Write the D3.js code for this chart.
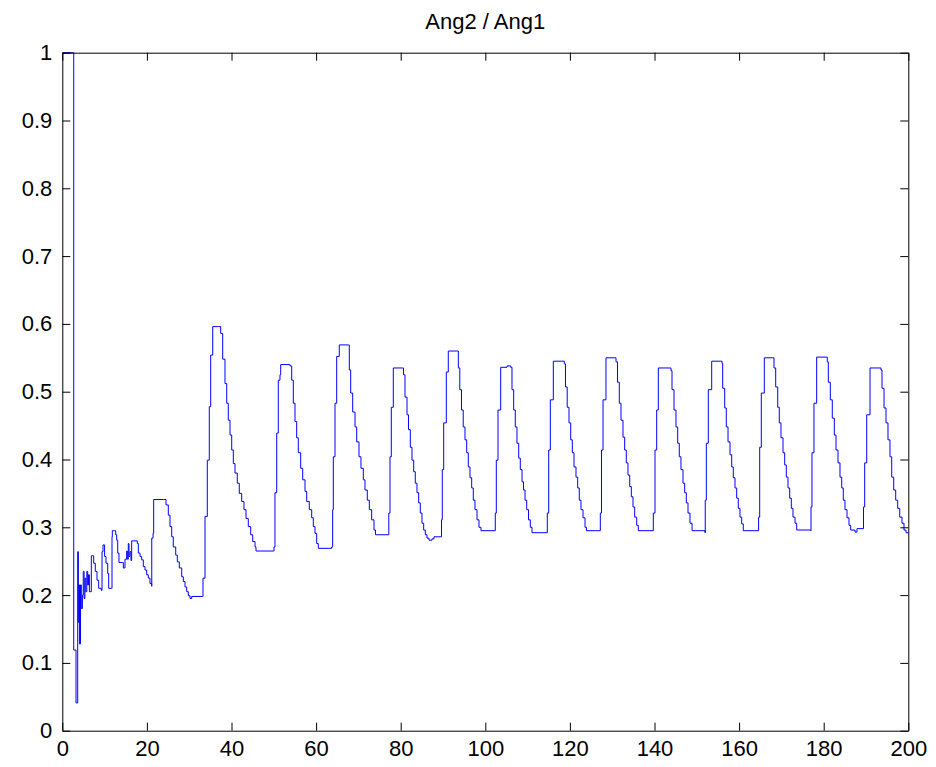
<!DOCTYPE html>
<html>
<head>
<meta charset="utf-8">
<script src="https://cdn.jsdelivr.net/npm/d3@7"></script>
<style>
  html, body { margin: 0; padding: 0; background: #fff; }
  svg { display: block; }
  text { font-family: "Liberation Sans", Arial, sans-serif; }
</style>
</head>
<body>
<svg id="chart" width="936" height="767"></svg>
<script>
const chartTitle = "Ang2 / Ang1";
const xTicks = [0, 20, 40, 60, 80, 100, 120, 140, 160, 180, 200];
const yTicks = [0, 0.1, 0.2, 0.3, 0.4, 0.5, 0.6, 0.7, 0.8, 0.9, 1];
const yTickLabels = ["0", "0.1", "0.2", "0.3", "0.4", "0.5", "0.6", "0.7", "0.8", "0.9", "1"];

// time axis values (x) and ratio values (y)
const timeValues = [
  0, 2.6, 2.7, 3.24, 3.64, 3.8, 3.95, 4.05, 4.3, 4.5, 4.75, 4.95, 5.15, 5.35, 5.55, 5.8, 6.0, 6.2, 6.4,
  6.86, 7.2, 7.42, 7.8, 8.2, 8.6, 9.2, 9.39, 9.62, 10.0, 10.33, 10.73, 10.97, 11.6, 11.75, 11.82, 12.29,
  12.62, 12.86, 13.1, 13.4, 14.18, 14.42, 14.82, 15.22, 15.37, 15.6, 15.77, 16.0, 16.24, 16.4, 17.42,
  17.73, 17.97, 18.37, 18.77, 19.15, 19.55, 19.95, 20.33, 20.73, 21.13, 21.15, 21.45, 21.6, 23.88,
  24.52, 25.06, 25.46, 25.86, 26.24, 26.81, 27.19, 27.66, 28.23, 28.61, 29.01, 29.41, 29.79, 30.19, 30.59, 33.19,
  33.26, 33.74, 34.28, 34.75, 35.08, 35.56, 36.88,
  37.45, 37.92, 38.46, 38.87, 39.24, 39.65, 40.05, 40.43, 40.83, 41.37, 41.84, 42.41, 42.95, 43.43, 43.97, 44.54, 45.01, 45.56, 45.79, 49.88,
  50.05, 50.28, 50.69, 51.06, 51.46, 51.63, 53.66,
  53.83, 54.23, 54.61, 55.01, 55.41, 55.79, 56.36, 56.83, 57.38, 57.78, 58.39, 58.96, 59.34, 59.74, 60.14, 60.52, 63.69,
  63.92, 64.07, 64.47, 64.87, 65.48, 67.61,
  67.85, 68.18, 68.65, 69.2, 69.6, 70.14, 70.61, 71.16, 71.56, 72.1, 72.58, 73.14, 73.69, 74.04, 77.07,
  77.19, 77.47, 77.78, 78.25, 80.47,
  80.66, 81.02, 81.49, 81.84, 82.27, 82.67, 83.07, 83.45, 83.85, 84.25, 84.63, 85.03, 85.43, 85.82, 86.22, 86.69, 87.4, 87.87, 89.53,
  89.65, 89.83, 90.16, 90.78, 91.25, 93.24,
  93.62, 93.97, 94.37, 94.78, 95.2, 95.6, 95.98, 96.38, 96.78, 97.16, 97.56, 98.04, 98.51, 98.98, 102.29,
  102.36, 102.6, 103.0, 103.64, 104.89, 105.13, 106.0,
  106.31, 106.71, 107.09, 107.49, 107.9, 108.27, 108.68, 109.03, 109.39, 109.79, 110.21, 110.64, 111.04, 114.59,
  114.66, 114.99, 115.37, 116.08, 118.06, 118.68,
  118.96, 119.36, 119.79, 120.19, 120.57, 120.97, 121.44, 121.84, 122.22, 122.62, 123.1, 123.57, 123.92, 127.12,
  127.19, 127.47, 127.83, 128.53, 130.5, 130.9,
  131.25, 131.68, 132.08, 132.55, 132.95, 133.33, 133.73, 134.14, 134.52, 134.92, 135.32, 135.79, 136.17, 139.65,
  139.72, 140.12, 140.52, 140.9, 143.5, 143.9,
  144.14, 144.61, 145.08, 145.48, 145.86, 146.26, 146.74, 147.14, 147.52, 147.92, 148.39, 148.87, 151.94,
  152.0, 152.25, 152.72, 153.52, 155.65, 155.96,
  156.12, 156.6, 156.97, 157.38, 157.85, 158.25, 158.63, 159.03, 159.43, 159.81, 160.21, 160.61, 160.99, 164.54,
  164.61, 164.87, 165.25, 165.96, 167.94, 168.25,
  168.65, 169.13, 169.5, 169.9, 170.38, 170.78, 171.16, 171.56, 171.96, 172.34, 172.74, 173.22, 173.62, 176.93,
  177.0, 177.23, 177.7, 178.34, 180.54, 180.85,
  181.09, 181.56, 182.03, 182.51, 182.91, 183.38, 183.85, 184.26, 184.63, 185.03, 185.51, 185.98, 186.38, 187.4, 187.87, 189.36,
  189.41, 189.69, 190.17, 190.95, 193.32, 193.55,
  193.78, 194.26, 194.73, 195.2, 195.67, 196.08, 196.55, 197.02, 197.49, 197.97, 198.51, 198.98, 199.46, 200
];
const ratioValues = [
  1, 1, 0.119, 0.041, 0.264, 0.16, 0.215, 0.128, 0.215, 0.18, 0.2, 0.235, 0.195, 0.225, 0.205, 0.235, 0.215, 0.23, 0.205,
  0.258, 0.258, 0.247, 0.235, 0.222, 0.21, 0.207, 0.264, 0.274, 0.257, 0.247, 0.232, 0.21, 0.21, 0.286, 0.295, 0.295,
  0.289, 0.281, 0.262, 0.248, 0.248, 0.24, 0.253, 0.265, 0.253, 0.276, 0.257, 0.264, 0.251, 0.28, 0.28,
  0.276, 0.262, 0.257, 0.252, 0.242, 0.237, 0.23, 0.225, 0.217, 0.213, 0.284, 0.291, 0.341, 0.341,
  0.333, 0.318, 0.301, 0.286, 0.271, 0.259, 0.249, 0.24, 0.227, 0.22, 0.212, 0.205, 0.199, 0.195, 0.198, 0.198,
  0.225, 0.316, 0.399, 0.478, 0.554, 0.596, 0.596,
  0.586, 0.548, 0.512, 0.483, 0.458, 0.436, 0.414, 0.394, 0.38, 0.365, 0.35, 0.338, 0.326, 0.313, 0.301, 0.289, 0.279, 0.271, 0.265, 0.265,
  0.271, 0.351, 0.439, 0.517, 0.525, 0.54, 0.54,
  0.538, 0.517, 0.483, 0.456, 0.432, 0.41, 0.387, 0.37, 0.353, 0.338, 0.326, 0.314, 0.301, 0.291, 0.276, 0.269, 0.271,
  0.326, 0.404, 0.483, 0.552, 0.569, 0.569,
  0.532, 0.498, 0.47, 0.448, 0.426, 0.404, 0.387, 0.37, 0.355, 0.34, 0.326, 0.311, 0.296, 0.289, 0.289,
  0.321, 0.404, 0.477, 0.535, 0.535,
  0.525, 0.492, 0.466, 0.444, 0.418, 0.399, 0.382, 0.365, 0.351, 0.336, 0.321, 0.306, 0.296, 0.289, 0.284, 0.281, 0.283, 0.286, 0.286,
  0.311, 0.385, 0.454, 0.529, 0.56, 0.56,
  0.535, 0.503, 0.473, 0.448, 0.429, 0.41, 0.389, 0.373, 0.358, 0.34, 0.326, 0.311, 0.3, 0.295, 0.295,
  0.321, 0.399, 0.473, 0.536, 0.536, 0.538, 0.536,
  0.503, 0.473, 0.448, 0.424, 0.402, 0.385, 0.367, 0.355, 0.34, 0.326, 0.311, 0.3, 0.292, 0.292,
  0.321, 0.414, 0.488, 0.545, 0.545, 0.541,
  0.507, 0.477, 0.454, 0.429, 0.41, 0.389, 0.374, 0.358, 0.34, 0.326, 0.314, 0.3, 0.295, 0.295,
  0.321, 0.414, 0.488, 0.55, 0.55, 0.544,
  0.514, 0.483, 0.458, 0.433, 0.414, 0.395, 0.377, 0.36, 0.345, 0.33, 0.315, 0.303, 0.295, 0.295,
  0.321, 0.414, 0.473, 0.535, 0.535, 0.531,
  0.503, 0.473, 0.448, 0.424, 0.404, 0.385, 0.365, 0.351, 0.336, 0.321, 0.306, 0.295, 0.292,
  0.34, 0.424, 0.503, 0.545, 0.545, 0.542,
  0.505, 0.476, 0.448, 0.426, 0.407, 0.389, 0.373, 0.358, 0.343, 0.328, 0.315, 0.305, 0.295, 0.295,
  0.315, 0.418, 0.498, 0.55, 0.55, 0.535,
  0.507, 0.477, 0.454, 0.432, 0.41, 0.392, 0.374, 0.358, 0.343, 0.328, 0.315, 0.306, 0.296, 0.295,
  0.33, 0.41, 0.483, 0.551, 0.551, 0.544,
  0.514, 0.488, 0.461, 0.436, 0.414, 0.395, 0.374, 0.358, 0.34, 0.326, 0.314, 0.303, 0.296, 0.293, 0.298, 0.298,
  0.33, 0.395, 0.466, 0.535, 0.535, 0.532,
  0.505, 0.476, 0.454, 0.429, 0.404, 0.374, 0.355, 0.34, 0.328, 0.315, 0.306, 0.296, 0.292, 0.292
];

const data = timeValues.map((t, i) => ({ x: t, y: ratioValues[i] }));

const svg = d3.select("#chart");
const margin = { left: 62.3, right: 936 - 908.3, top: 52.7, bottom: 767 - 730.7 };
const W = 936, H = 767;

const x = d3.scaleLinear().domain([0, 200]).range([margin.left, W - margin.right]);
const y = d3.scaleLinear().domain([0, 1]).range([H - margin.bottom, margin.top]);

const tickLen = 8;
const fontSize = 22;

// line
svg.append("path")
  .datum(data)
  .attr("fill", "none")
  .attr("stroke", "#0000ff")
  .attr("stroke-width", 1)
  .attr("d", d3.line().curve(d3.curveStepAfter).x(d => x(d.x)).y(d => y(d.y)));

// axes
const xAxisB = d3.axisBottom(x).tickValues(xTicks).tickSizeInner(-tickLen).tickSizeOuter(0).tickPadding(10);
const xAxisT = d3.axisTop(x).tickValues(xTicks).tickSizeInner(-tickLen).tickSizeOuter(0).tickFormat("");
const yAxisL = d3.axisLeft(y).tickValues(yTicks).tickSizeInner(-tickLen).tickSizeOuter(0).tickPadding(10)
  .tickFormat((d, i) => yTickLabels[i]);
const yAxisR = d3.axisRight(y).tickValues(yTicks).tickSizeInner(-tickLen).tickSizeOuter(0).tickFormat("");

function styleAxis(g) {
  g.select(".domain").attr("stroke", "#000").attr("stroke-width", 1);
  g.selectAll(".tick line").attr("stroke", "#000").attr("stroke-width", 1);
  g.selectAll(".tick text").attr("fill", "#000").style("font-size", fontSize + "px")
    .style("font-family", "'Liberation Sans', Arial, sans-serif");
}

svg.append("g").attr("transform", `translate(0,${y(0)})`).call(xAxisB).call(styleAxis);
svg.append("g").attr("transform", `translate(0,${y(1)})`).call(xAxisT).call(styleAxis);
svg.append("g").attr("transform", `translate(${x(0)},0)`).call(yAxisL).call(styleAxis);
svg.append("g").attr("transform", `translate(${x(200)},0)`).call(yAxisR).call(styleAxis);

// title
svg.append("text")
  .attr("x", (x(0) + x(200)) / 2)
  .attr("y", 29)
  .attr("text-anchor", "middle")
  .style("font-size", "22px")
  .attr("fill", "#000")
  .text(chartTitle);
</script>
</body>
</html>
